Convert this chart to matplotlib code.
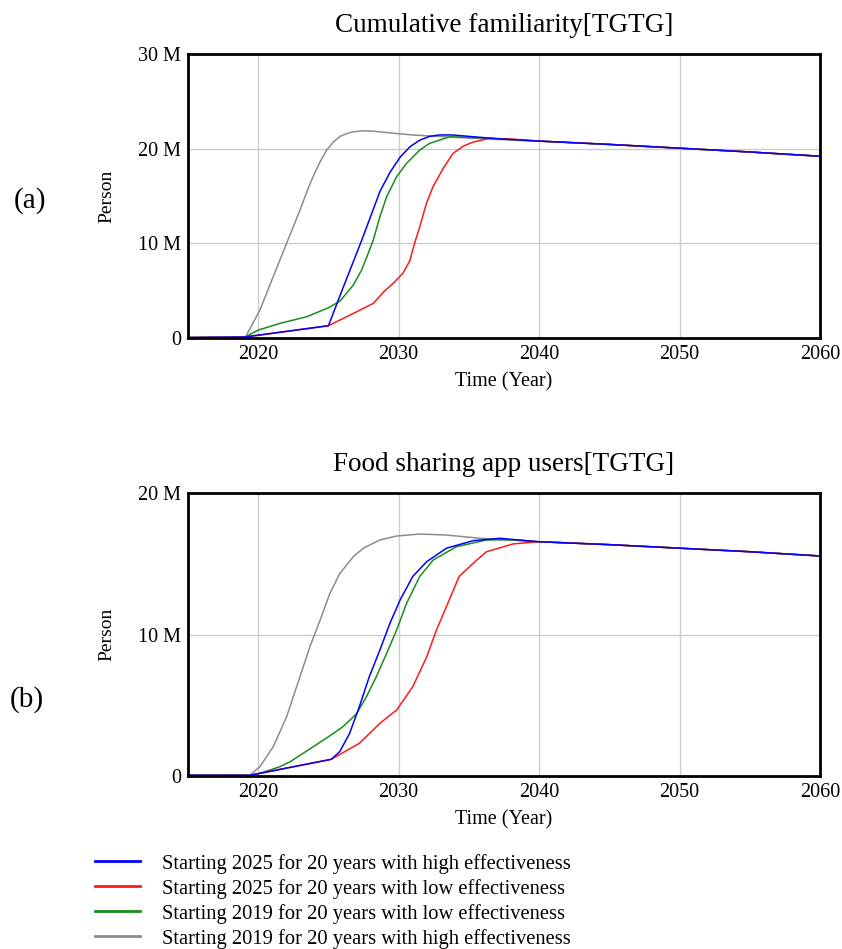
import matplotlib
matplotlib.use("Agg")
import matplotlib.pyplot as plt
from matplotlib.ticker import FuncFormatter

plt.rcParams['font.family'] = ['Liberation Serif', 'DejaVu Serif']

# ---- (a) Cumulative familiarity, million persons ----
a_blue_x = [2015, 2019, 2025, 2025.8, 2027.36, 2028.67, 2029.38, 2030.1, 2030.8, 2031.5,
            2032.2, 2032.9, 2033.8, 2035, 2037, 2040, 2045, 2050, 2055, 2060]
a_blue_y = [0.05, 0.1, 1.3, 4.4, 10.3, 15.5, 17.5, 19.1, 20.2, 20.9,
            21.3, 21.45, 21.45, 21.3, 21.05, 20.8, 20.45, 20.05, 19.65, 19.2]

a_red_x = [2015, 2019, 2025, 2026.77, 2028.19, 2028.95, 2029.6, 2030.3, 2030.8, 2031.13,
           2031.5, 2031.97, 2032.45, 2033.16, 2033.87, 2034.6, 2035.3, 2036.5, 2038.2,
           2040, 2045, 2050, 2055, 2060]
a_red_y = [0.05, 0.1, 1.3, 2.6, 3.66, 4.9, 5.77, 6.83, 8.2, 10.0,
           11.75, 14.2, 16.0, 17.9, 19.5, 20.27, 20.7, 21.1, 21.0,
           20.8, 20.45, 20.05, 19.65, 19.2]

a_green_x = [2015, 2019.06, 2020, 2021.55, 2023.45, 2025, 2025.82, 2026.77, 2027.36, 2027.83,
             2028.19, 2028.66, 2029.14, 2029.85, 2030.56, 2031.5, 2032.2, 2033.64, 2035.8,
             2040, 2045, 2050, 2055, 2060]
a_green_y = [0.05, 0.1, 0.84, 1.55, 2.25, 3.2, 3.9, 5.6, 7.18, 8.94,
             10.35, 12.8, 14.92, 17.03, 18.45, 19.85, 20.56, 21.26, 21.15,
             20.8, 20.45, 20.05, 19.65, 19.2]

a_gray_x = [2015, 2019.1, 2020.12, 2021.07, 2022.02, 2022.97, 2023.5, 2023.92, 2024.4, 2024.87,
            2025.35, 2025.82, 2026.5, 2027.3, 2028.2, 2029.5, 2031.03, 2034.6, 2038.2, 2040,
            2045, 2050, 2055, 2060]
a_gray_y = [0.05, 0.12, 2.96, 6.5, 10.0, 13.5, 15.6, 17.1, 18.6, 19.85,
            20.7, 21.3, 21.7, 21.88, 21.85, 21.65, 21.44, 21.15, 20.9, 20.8,
            20.45, 20.05, 19.65, 19.2]

# ---- (b) Food sharing app users, million persons ----
b_blue_x = [2015, 2019.41, 2025.2, 2025.8, 2026.5, 2027.2, 2027.9, 2028.66, 2029.38, 2030.1,
            2031.0, 2032.0, 2033.4, 2035.3, 2037.2, 2039.9, 2045, 2050, 2055, 2060]
b_blue_y = [0.05, 0.05, 1.18, 1.72, 3.0, 4.9, 7.0, 8.9, 10.8, 12.44,
            14.1, 15.15, 16.1, 16.63, 16.8, 16.56, 16.35, 16.1, 15.85, 15.55]

b_red_x = [2015, 2019.41, 2025.2, 2027.2, 2028.66, 2029.85, 2031.0, 2032.0, 2032.68, 2033.4,
           2034.3, 2035.3, 2036.25, 2038.15, 2039.9, 2045, 2050, 2055, 2060]
b_red_y = [0.05, 0.05, 1.18, 2.31, 3.72, 4.66, 6.31, 8.43, 10.3, 11.97,
           14.1, 15.03, 15.85, 16.4, 16.56, 16.35, 16.1, 15.85, 15.55]

b_green_x = [2015, 2019.41, 2020.12, 2021.55, 2022.26, 2023.92, 2025.34, 2026.05, 2027.0, 2027.7,
             2028.4, 2029.14, 2029.85, 2030.56, 2031.5, 2032.45, 2034.1, 2036.25, 2038.2, 2039.9,
             2045, 2050, 2055, 2060]
b_green_y = [0.05, 0.05, 0.19, 0.66, 1.0, 2.07, 3.0, 3.5, 4.4, 5.6,
             7.0, 8.67, 10.3, 12.2, 14.1, 15.26, 16.2, 16.68, 16.7, 16.56,
             16.35, 16.1, 15.85, 15.55]

b_gray_x = [2015, 2019.41, 2020.12, 2021.07, 2022.02, 2022.97, 2023.68, 2024.4, 2025.1, 2025.8,
            2026.77, 2027.48, 2028.66, 2029.85, 2031.5, 2033.4, 2035.8, 2039.9, 2045, 2050,
            2055, 2060]
b_gray_y = [0.05, 0.07, 0.66, 2.07, 4.19, 7.02, 9.14, 11.0, 12.9, 14.3,
            15.5, 16.1, 16.68, 16.96, 17.1, 17.03, 16.8, 16.56, 16.35, 16.1,
            15.85, 15.55]

labels = ["Starting 2025 for 20 years with high effectiveness",
          "Starting 2025 for 20 years with low effectiveness",
          "Starting 2019 for 20 years with low effectiveness",
          "Starting 2019 for 20 years with high effectiveness"]
colors = ["#0000ff", "#ff1a1a", "#1a8c1a", "#8c8c8c"]

x_ticks = [2020, 2030, 2040, 2050, 2060]

fig = plt.figure(figsize=(8.42, 9.49), dpi=100)
ax1 = fig.add_axes([0.2233, 0.6438, 0.7506, 0.2993])
ax2 = fig.add_axes([0.2233, 0.1823, 0.7506, 0.2982])


def mfmt(v, pos):
    if v == 0:
        return "0"
    return "%d M" % v


def style(ax, ymax, yticks, title):
    ax.set_xlim(2015, 2060)
    ax.set_ylim(0, ymax)
    ax.set_xticks(x_ticks)
    ax.set_yticks(yticks)
    ax.yaxis.set_major_formatter(FuncFormatter(mfmt))
    ax.grid(True, color="#cccccc", linewidth=1)
    ax.set_axisbelow(True)
    ax.tick_params(length=0, labelsize=14.5, pad=5)
    for s in ax.spines.values():
        s.set_linewidth(2)
        s.set_color("black")
    ax.set_title(title, fontsize=19.5, pad=16)
    ax.set_xlabel("Time (Year)", fontsize=14.5)
    ax.set_ylabel("Person", fontsize=14)
    ax.xaxis.set_label_coords(0.5, -0.12)
    ax.yaxis.set_label_coords(-0.1155, 0.5)


series_a = [(a_blue_x, a_blue_y), (a_red_x, a_red_y), (a_green_x, a_green_y), (a_gray_x, a_gray_y)]
series_b = [(b_blue_x, b_blue_y), (b_red_x, b_red_y), (b_green_x, b_green_y), (b_gray_x, b_gray_y)]

handles = []
for ax, series in [(ax1, series_a), (ax2, series_b)]:
    hs = []
    # gray first, blue last so blue sits on top
    for i in [3, 2, 1, 0]:
        xs, ys = series[i]
        h, = ax.plot(xs, ys, color=colors[i], linewidth=1.1, clip_on=False)
        hs.append((i, h))
    handles = [h for i, h in sorted(hs)]

style(ax1, 30, [0, 10, 20, 30], "Cumulative familiarity[TGTG]")
style(ax2, 20, [0, 10, 20], "Food sharing app users[TGTG]")

fig.text(0.016, 0.789, "(a)", fontsize=21, va="center")
fig.text(0.012, 0.263, "(b)", fontsize=21, va="center")

leg = fig.legend(handles, labels, loc="upper left", bbox_to_anchor=(0.1128, 0.1005),
                 frameon=False, fontsize=14.8, handlelength=2.2, handletextpad=1.05,
                 labelspacing=0.25, borderaxespad=0, borderpad=0)
for l in leg.get_lines():
    l.set_linewidth(2)

fig.savefig("out.png", dpi=100)
